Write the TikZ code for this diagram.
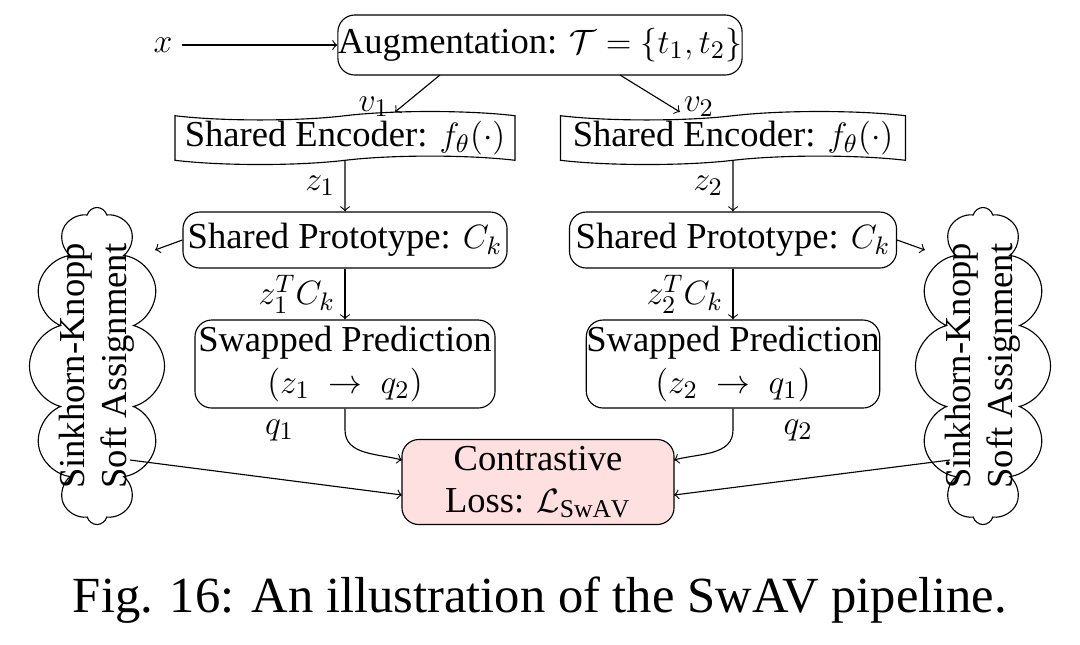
\documentclass[tikz,border=0pt]{standalone}
\usepackage{fontspec}
\setmainfont{Liberation Serif}
\usetikzlibrary{shapes.symbols,positioning}
\begin{document}
\begin{tikzpicture}[x=0.0125cm,y=-0.0125cm,>=to,
  box/.style={draw,rounded corners=6pt,align=center,inner sep=0pt},
  enc/.style={draw,tape,shape border rotate=90,tape bend height=3pt,inner sep=0pt},
  sk/.style={draw,cloud,cloud puffs=12,aspect=0.45,minimum width=1.6875cm,minimum height=3.9625cm,inner sep=0pt},
  every node/.style={font=\fontsize{13}{15}\selectfont}]
\useasboundingbox (0,0) rectangle (1080,644);
\node (x) at (163,45) {$x$};
\node[box,minimum width=4.975cm,minimum height=0.75cm] (aug) at (540,45) {Augmentation: $\mathcal{T}=\{t_1,t_2\}$};
\node[enc,minimum width=4.25cm,minimum height=0.6625cm] (encl) at (345,138) {Shared Encoder: $f_\theta(\cdot)$};
\node[enc,minimum width=4.3125cm,minimum height=0.6625cm] (encr) at (733,138) {Shared Encoder: $f_\theta(\cdot)$};
\node[box,minimum width=4.05cm,minimum height=0.7cm] (prl) at (345,240) {Shared Prototype: $C_k$};
\node[box,minimum width=4.0875cm,minimum height=0.7cm] (prr) at (733,240) {Shared Prototype: $C_k$};
\node[box,minimum width=3.75cm,minimum height=1.1cm] (swl) at (345,364) {Swapped Prediction\\$(z_1\ \rightarrow\ q_2)$};
\node[box,minimum width=3.4cm,minimum height=1.1cm] (swr) at (733,364) {Swapped Prediction\\$(z_2\ \rightarrow\ q_1)$};
\node[box,fill=red!12,minimum width=3.4cm,minimum height=1.0625cm] (loss) at (538,482) {Contrastive\\Loss: $\mathcal{L}_{\mathrm{SwAV}}$};
\node[sk] (skl) at (97,366) {};
\node[rotate=90,align=center] at (skl) {Sinkhorn-Knopp\\Soft Assignment};
\node[sk] (skr) at (983,366) {};
\node[rotate=90,align=center] at (skr) {Sinkhorn-Knopp\\Soft Assignment};
\coordinate (al) at (440,75);
\coordinate (ar) at (620,75);
\coordinate (ql) at (130,460);
\coordinate (qr) at (950,460);
\draw[->] (x) -- (aug);
\draw[->] (al) -- node[pos=0.85,left=1pt] {$v_1$} (395,112);
\draw[->] (ar) -- node[pos=0.85,right=1pt] {$v_2$} (680,112);
\draw[->] (encl) -- node[left] {$z_1$} (prl);
\draw[->] (encr) -- node[left] {$z_2$} (prr);
\draw[->] (prl) -- node[left] {$z_1^T C_k$} (swl);
\draw[->] (prr) -- node[left] {$z_2^T C_k$} (swr);
\draw[->] (prl.west) -- (155,250);
\draw[->] (prr.east) -- (925,250);
\draw[->] (swl.south) -- (345,430) to[out=-90,in=165] (402,460);
\draw[->] (swr.south) -- (733,430) to[out=-90,in=15] (674,460);
\draw[->] (ql) -- node[pos=0.55,above=10pt] {$q_1$} (402,495);
\draw[->] (qr) -- node[pos=0.55,above=10pt] {$q_2$} (674,495);
\node[font=\fontsize{18}{20}\selectfont] (cap) at (540,600) {Fig. 16: An illustration of the SwAV pipeline.};
\end{tikzpicture}
\end{document}
